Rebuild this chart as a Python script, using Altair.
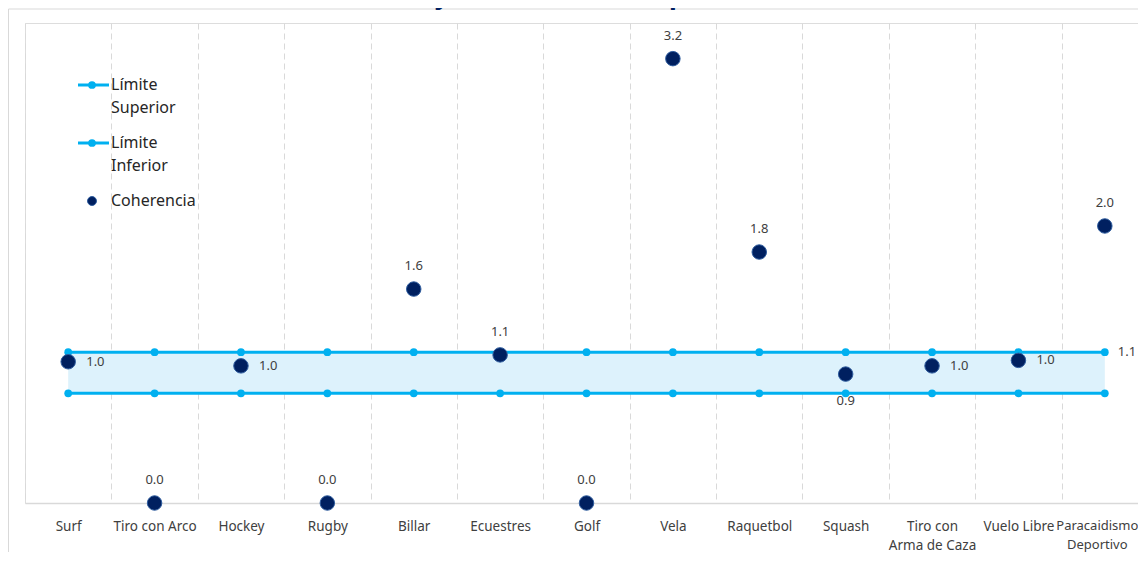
import altair as alt
import pandas as pd

# ---- data ----
categories = ["Surf", "Tiro con Arco", "Hockey", "Rugby", "Billar", "Ecuestres", "Golf",
              "Vela", "Raquetbol", "Squash", "Tiro con Arma de Caza", "Vuelo Libre",
              "Paracaidismo Deportivo"]
coherencia = [1.03, 0.0, 1.00, 0.0, 1.56, 1.08, 0.0, 3.24, 1.83, 0.94, 1.00, 1.04, 2.02]
limite_superior = [1.1, 1.1, 1.1, 1.1, 1.1, 1.1, 1.1, 1.1, 1.1, 1.1, 1.1, 1.1, 1.1]
limite_inferior = [0.8, 0.8, 0.8, 0.8, 0.8, 0.8, 0.8, 0.8, 0.8, 0.8, 0.8, 0.8, 0.8]
label_pos = ["right", "above", "right", "above", "above", "above", "above",
             "above", "above", "below", "right", "right", "above"]
title_text = "Gráfica 52. Asociaciones y Federaciones Deportivas Índice de Coherencia"

df = pd.DataFrame({"cat": categories, "coh": coherencia, "upper": limite_superior,
                   "lower": limite_inferior, "pos": label_pos})

FONT = "Noto Sans"
CYAN = "#00B0F0"
NAVY = "#002060"

label_expr = ("datum.label == 'Tiro con Arma de Caza' ? ['Tiro con', 'Arma de Caza'] : "
              "datum.label == 'Paracaidismo Deportivo' ? ['Paracaidismo', 'Deportivo'] : datum.label")
last_test = "datum.value == 'Paracaidismo Deportivo'"

x_enc = alt.X("cat:N", sort=categories, bandPosition=0.5,
              scale=alt.Scale(type="band", paddingInner=0, paddingOuter=0),
              axis=alt.Axis(title=None, tickBand="extent", ticks=False, tickSize=0,
                            grid=True, gridDash=[6, 4], gridColor="#d9d9d9", gridWidth=1,
                            domainColor="#d9d9d9", domainWidth=1.5,
                            labelFontSize={"condition": {"test": last_test, "value": 13}, "value": 13.5},
                            labelColor="#404040", labelPadding=16,
                            labelLineHeight=19, labelExpr=label_expr, labelAngle=0,
                            labelOffset={"condition": {"test": last_test, "value": -8}, "value": 0}))
y_scale = alt.Scale(domain=[0, 3.5], nice=False, zero=False)

base = alt.Chart(df)

band = base.mark_area(color="#DDF2FC", opacity=1).encode(
    x=x_enc, y=alt.Y("lower:Q", scale=y_scale, axis=None), y2="upper:Q")

line_up = base.mark_line(color=CYAN, strokeWidth=3,
                         point=alt.OverlayMarkDef(filled=True, size=60, color=CYAN)).encode(
    x=x_enc, y=alt.Y("upper:Q", scale=y_scale, axis=None))
line_lo = base.mark_line(color=CYAN, strokeWidth=3,
                         point=alt.OverlayMarkDef(filled=True, size=60, color=CYAN)).encode(
    x=x_enc, y=alt.Y("lower:Q", scale=y_scale, axis=None))

pts = base.mark_circle(size=210, color=NAVY, opacity=1, stroke="#2E5C9E", strokeWidth=1).encode(
    x=x_enc, y=alt.Y("coh:Q", scale=y_scale, axis=None))

def lbl(pos, **kw):
    return base.transform_filter(alt.datum.pos == pos).mark_text(
        fontSize=13, color="#404040", font=FONT, **kw).encode(
        x=x_enc, y=alt.Y("coh:Q", scale=y_scale, axis=None),
        text=alt.Text("coh:Q", format=".1f"))

lbl_above = lbl("above", dy=-23, align="center", baseline="middle")
lbl_right = lbl("right", dx=18, align="left", baseline="middle")
lbl_below = lbl("below", dy=27, align="center", baseline="middle")

upper_lbl = base.transform_filter(alt.datum.cat == categories[-1]).mark_text(
    fontSize=13, color="#404040", font=FONT, dx=13, align="left", baseline="middle").encode(
    x=x_enc, y=alt.Y("upper:Q", scale=y_scale, axis=None),
    text=alt.Text("upper:Q", format=".1f"))

one = alt.Data(values=[{"k": 1}])

frame_left = alt.Chart(one).mark_rule(color="#d9d9d9", strokeWidth=1).encode(
    x=alt.value(-16.5), y=alt.value(-14), y2=alt.value(700))
frame_top = alt.Chart(one).mark_rule(color="#d9d9d9", strokeWidth=1).encode(
    x=alt.value(-16.5), x2=alt.value(1300), y=alt.value(-14))

title = alt.Chart(one).mark_text(fontSize=26, fontWeight="bold", color=NAVY, font=FONT,
                                 align="center", baseline="alphabetic").encode(
    x=alt.value(561), y=alt.value(-19), text=alt.value(title_text))

# ---- manual legend (top-left, inside plot) ----
legend_layers = []
for ly in (62, 120):
    legend_layers.append(alt.Chart(one).mark_rule(color=CYAN, strokeWidth=3).encode(
        x=alt.value(53), x2=alt.value(84), y=alt.value(ly)))
    legend_layers.append(alt.Chart(one).mark_point(filled=True, size=60, color=CYAN, opacity=1).encode(
        x=alt.value(67), y=alt.value(ly)))
legend_layers.append(alt.Chart(one).mark_circle(size=80, color=NAVY, opacity=1,
                                                stroke="#2E5C9E", strokeWidth=1).encode(
    x=alt.value(67), y=alt.value(178)))
legend_texts = [("Límite", 62), ("Superior", 85), ("Límite", 120), ("Inferior", 143), ("Coherencia", 178)]
for t, ty in legend_texts:
    legend_layers.append(alt.Chart(one).mark_text(fontSize=16, color="#262626", font=FONT,
                                                  align="left", baseline="middle").encode(
        x=alt.value(86), y=alt.value(ty), text=alt.value(t)))

chart = alt.layer(
    frame_left, frame_top, band, line_up, line_lo, pts, lbl_above, lbl_right, lbl_below, upper_lbl,
    *legend_layers, title
).properties(
    width=1123, height=480,
    padding={"left": 17, "top": 15, "right": -10, "bottom": 49},
    autosize=alt.AutoSizeParams(type="none")
).configure_view(strokeWidth=0).configure(font=FONT)

chart.save("out.html", embed_options={"renderer": "svg", "actions": False})
